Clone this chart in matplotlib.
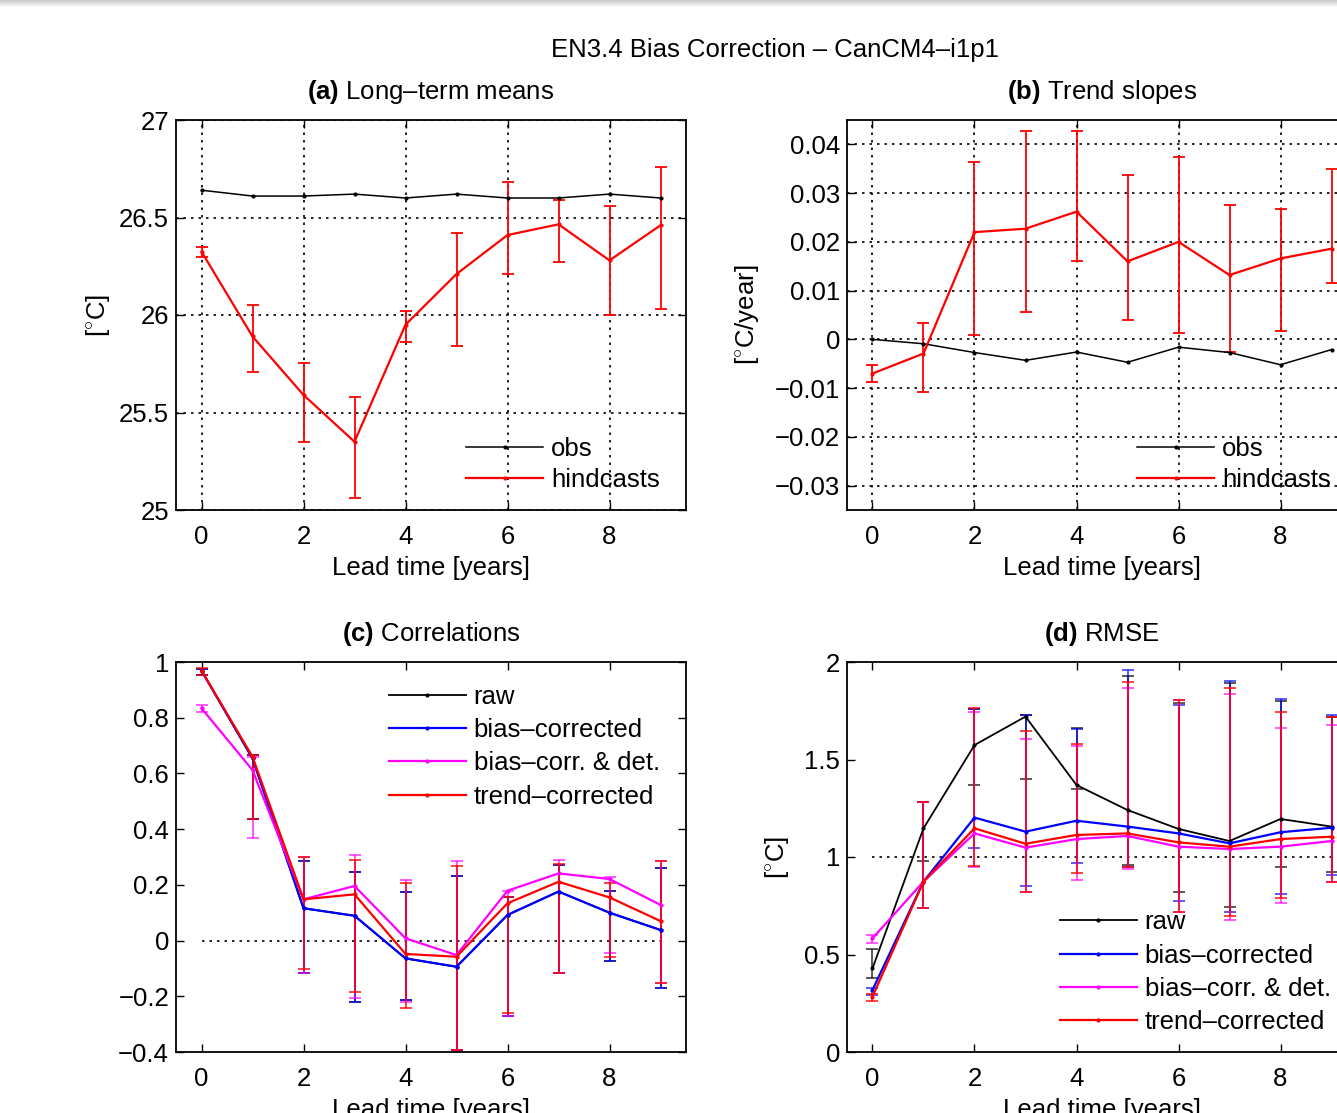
import numpy as np
import matplotlib
matplotlib.use("Agg")
import matplotlib.pyplot as plt
from matplotlib.ticker import FixedLocator, FuncFormatter

plt.rcParams['font.family'] = ['Liberation Sans', 'DejaVu Sans']
plt.rcParams['font.size'] = 18.5
plt.rcParams['axes.titlesize'] = 18.5
plt.rcParams['mathtext.fontset'] = 'custom'
plt.rcParams['mathtext.rm'] = 'Liberation Sans'
plt.rcParams['mathtext.bf'] = 'Liberation Sans:bold'
plt.rcParams['axes.unicode_minus'] = True

lead = np.arange(10)

# (a) long-term means
a_obs = [26.64, 26.61, 26.61, 26.62, 26.60, 26.62, 26.60, 26.60, 26.62, 26.60]
a_hc = [26.325, 25.89, 25.59, 25.35, 25.95, 26.21, 26.41, 26.465, 26.28, 26.46]
a_hc_lo = [26.30, 25.71, 25.35, 25.06, 25.86, 25.84, 26.21, 26.27, 26.00, 26.03]
a_hc_hi = [26.35, 26.05, 25.755, 25.58, 26.02, 26.42, 26.68, 26.59, 26.56, 26.76]

# (b) trend slopes
b_obs = [0.0, -0.0009, -0.0027, -0.0043, -0.0026, -0.0047, -0.0016, -0.0027, -0.0052, -0.0021]
b_hc = [-0.0070, -0.0029, 0.0220, 0.0227, 0.0262, 0.0160, 0.0200, 0.0132, 0.0166, 0.0186]
b_hc_lo = [-0.0088, -0.0108, 0.0008, 0.0057, 0.0160, 0.0040, 0.0014, -0.0025, 0.0018, 0.0116]
b_hc_hi = [-0.0053, 0.0034, 0.0363, 0.0427, 0.0427, 0.0337, 0.0374, 0.0276, 0.0268, 0.0350]

# (c) correlations
c_raw = [0.969, 0.654, 0.116, 0.089, -0.064, -0.094, 0.092, 0.176, 0.100, 0.038]
c_raw_lo = [0.955, 0.436, -0.118, -0.219, -0.213, -0.393, -0.271, -0.118, -0.072, -0.169]
c_raw_hi = [0.975, 0.666, 0.286, 0.247, 0.176, 0.233, 0.158, 0.270, 0.179, 0.259]
c_bias = [0.969, 0.654, 0.116, 0.089, -0.064, -0.094, 0.092, 0.176, 0.100, 0.038]
c_bias_lo = [0.955, 0.436, -0.118, -0.219, -0.213, -0.393, -0.271, -0.118, -0.072, -0.169]
c_bias_hi = [0.975, 0.666, 0.286, 0.247, 0.176, 0.233, 0.158, 0.270, 0.179, 0.259]
c_det = [0.834, 0.612, 0.148, 0.196, 0.008, -0.052, 0.179, 0.241, 0.221, 0.128]
c_det_lo = [0.820, 0.367, -0.118, -0.207, -0.220, -0.393, -0.271, -0.118, -0.046, -0.153]
c_det_hi = [0.845, 0.660, 0.301, 0.307, 0.218, 0.287, 0.178, 0.289, 0.227, 0.287]
c_trend = [0.969, 0.660, 0.148, 0.166, -0.048, -0.058, 0.134, 0.211, 0.155, 0.070]
c_trend_lo = [0.955, 0.436, -0.102, -0.183, -0.241, -0.393, -0.259, -0.118, -0.058, -0.153]
c_trend_hi = [0.980, 0.666, 0.301, 0.289, 0.206, 0.269, 0.158, 0.275, 0.206, 0.287]

# (d) RMSE
d_raw = [0.429, 1.147, 1.574, 1.720, 1.369, 1.241, 1.144, 1.082, 1.195, 1.156]
d_raw_lo = [0.38, 0.98, 1.37, 1.40, 1.35, 0.96, 0.82, 0.745, 0.95, 0.925]
d_raw_hi = [0.53, 1.28, 1.76, 1.73, 1.66, 1.93, 1.79, 1.89, 1.80, 1.72]
d_bias = [0.318, 0.874, 1.202, 1.130, 1.186, 1.156, 1.121, 1.070, 1.127, 1.150]
d_bias_lo = [0.29, 0.74, 1.045, 0.853, 0.967, 0.95, 0.774, 0.72, 0.809, 0.908]
d_bias_hi = [0.33, 1.28, 1.76, 1.728, 1.656, 1.959, 1.779, 1.903, 1.809, 1.728]
d_det = [0.583, 0.874, 1.121, 1.048, 1.092, 1.108, 1.053, 1.041, 1.053, 1.082]
d_det_lo = [0.56, 0.74, 0.95, 0.819, 0.882, 0.94, 0.716, 0.677, 0.762, 0.873]
d_det_hi = [0.60, 1.28, 1.742, 1.605, 1.57, 1.868, 1.805, 1.834, 1.663, 1.677]
d_trend = [0.284, 0.874, 1.147, 1.068, 1.113, 1.121, 1.075, 1.053, 1.092, 1.104]
d_trend_lo = [0.26, 0.74, 0.955, 0.819, 0.916, 0.95, 0.716, 0.697, 0.788, 0.873]
d_trend_hi = [0.30, 1.28, 1.766, 1.646, 1.578, 1.896, 1.805, 1.865, 1.745, 1.72]

grid_ls = (0, (1.5, 3))
dash = '\u2013'


def fmt(v, pos):
    return ('%g' % round(v, 6)).replace('-', '\u2212')


def style(ax, yticks, ylim):
    ax.set_xlim(-0.5, 9.5)
    ax.set_ylim(*ylim)
    ax.xaxis.set_major_locator(FixedLocator([0, 2, 4, 6, 8]))
    ax.yaxis.set_major_locator(FixedLocator(yticks))
    ax.yaxis.set_major_formatter(FuncFormatter(fmt))
    ax.tick_params(direction='in', length=6, width=1, top=True, right=True, labelsize=18.5)
    ax.tick_params(axis='x', pad=11)
    ax.tick_params(axis='y', pad=5)
    for s in ax.spines.values():
        s.set_linewidth(1.3)
    ax.set_xlabel("Lead time [years]", labelpad=5)


def bars(ax, x, lo, hi, color, lw=1.3, alpha=1.0):
    ax.vlines(x, lo, hi, color=color, lw=lw, alpha=alpha, zorder=2)
    ax.plot(x, lo, ls='none', marker='_', ms=9, mew=lw, color=color, alpha=alpha, zorder=2)
    ax.plot(x, hi, ls='none', marker='_', ms=9, mew=lw, color=color, alpha=alpha, zorder=2)


def legend(ax, loc, anchor, spacing):
    ax.legend(loc=loc, bbox_to_anchor=anchor, frameon=False, handlelength=3.0,
              handletextpad=0.3, labelspacing=spacing, borderaxespad=0.3)


fig = plt.figure(figsize=(13.37, 11.13), dpi=100)
W, H = 1337.0, 1113.0

def box(l, t, r, b):
    return [l / W, 1 - b / H, (r - l) / W, (b - t) / H]

ax_a = fig.add_axes(box(176, 120, 686, 510))
ax_b = fig.add_axes(box(847, 120, 1357, 510))
ax_c = fig.add_axes(box(176, 662, 686, 1052))
ax_d = fig.add_axes(box(847, 662, 1357, 1052))

# grey shadow along the top edge, as in the screenshot
shade = np.linspace(0.80, 1.0, 8)[:, None, None] * np.ones((8, 1337, 3))
fig.figimage(shade, xo=0, yo=int(H) - 8, zorder=10)

fig.text(775 / W, 1 - 50 / H, "EN3.4 Bias Correction " + dash + " CanCM4" + dash + "i1p1",
         ha='center', va='center', fontsize=18.5)

# (a)
ax = ax_a
style(ax, [25, 25.5, 26, 26.5, 27], (25, 27))
ax.grid(True, color='black', linestyle=grid_ls, linewidth=1.2)
bars(ax, lead, a_hc_lo, a_hc_hi, 'red')
ax.plot(lead, a_obs, color='black', lw=1.1, marker='.', ms=4, label='obs', zorder=3)
ax.plot(lead, a_hc, color='red', lw=1.6, marker='.', ms=4, label='hindcasts', zorder=3)
ax.set_title(r"$\mathbf{(a)}$ Long" + dash + "term means", pad=15)
ax.set_ylabel(r"[$^{\circ}$C]", labelpad=5)
legend(ax, 'lower right', (0.984, 0.0), 0.28)

# (b)
ax = ax_b
style(ax, [-0.03, -0.02, -0.01, 0, 0.01, 0.02, 0.03, 0.04], (-0.035, 0.045))
ax.grid(True, color='black', linestyle=grid_ls, linewidth=1.2)
bars(ax, lead, b_hc_lo, b_hc_hi, 'red')
ax.plot(lead, b_obs, color='black', lw=1.1, marker='.', ms=4, label='obs', zorder=3)
ax.plot(lead, b_hc, color='red', lw=1.6, marker='.', ms=4, label='hindcasts', zorder=3)
ax.set_title(r"$\mathbf{(b)}$ Trend slopes", pad=15)
ax.set_ylabel(r"[$^{\circ}$C/year]", labelpad=10)
legend(ax, 'lower right', (0.984, 0.0), 0.28)

# (c)
ax = ax_c
style(ax, [-0.4, -0.2, 0, 0.2, 0.4, 0.6, 0.8, 1], (-0.4, 1))
ax.plot(lead, np.zeros(10), color='black', linestyle=grid_ls, lw=1.2)
bars(ax, lead, c_raw_lo, c_raw_hi, 'black', alpha=0.7)
bars(ax, lead, c_bias_lo, c_bias_hi, 'blue', alpha=0.7)
bars(ax, lead, c_det_lo, c_det_hi, 'magenta', alpha=0.7)
bars(ax, lead, c_trend_lo, c_trend_hi, 'red', alpha=0.8)
ax.plot(lead, c_raw, color='black', lw=1.3, marker='.', ms=4, label='raw', zorder=3)
ax.plot(lead, c_bias, color='blue', lw=1.6, marker='.', ms=4, label='bias' + dash + 'corrected', zorder=3)
ax.plot(lead, c_det, color='magenta', lw=1.6, marker='.', ms=4, label='bias' + dash + 'corr. & det.', zorder=3)
ax.plot(lead, c_trend, color='red', lw=1.6, marker='.', ms=4, label='trend' + dash + 'corrected', zorder=3)
ax.set_title(r"$\mathbf{(c)}$ Correlations", pad=15)
legend(ax, 'upper right', (0.984, 1 - 5 / 390.0), 0.36)

# (d)
ax = ax_d
style(ax, [0, 0.5, 1, 1.5, 2], (0, 2))
ax.plot(lead, np.ones(10), color='black', linestyle=grid_ls, lw=1.2)
bars(ax, lead, d_raw_lo, d_raw_hi, 'black', alpha=0.7)
bars(ax, lead, d_bias_lo, d_bias_hi, 'blue', alpha=0.7)
bars(ax, lead, d_det_lo, d_det_hi, 'magenta', alpha=0.7)
bars(ax, lead, d_trend_lo, d_trend_hi, 'red', alpha=0.8)
ax.plot(lead, d_raw, color='black', lw=1.3, marker='.', ms=4, label='raw', zorder=3)
ax.plot(lead, d_bias, color='blue', lw=1.6, marker='.', ms=4, label='bias' + dash + 'corrected', zorder=3)
ax.plot(lead, d_det, color='magenta', lw=1.6, marker='.', ms=4, label='bias' + dash + 'corr. & det.', zorder=3)
ax.plot(lead, d_trend, color='red', lw=1.6, marker='.', ms=4, label='trend' + dash + 'corrected', zorder=3)
ax.set_title(r"$\mathbf{(d)}$ RMSE", pad=15)
ax.set_ylabel(r"[$^{\circ}$C]", labelpad=9.5)
legend(ax, 'lower right', (0.984, 0.0), 0.36)

plt.savefig("out.png", dpi=100)
